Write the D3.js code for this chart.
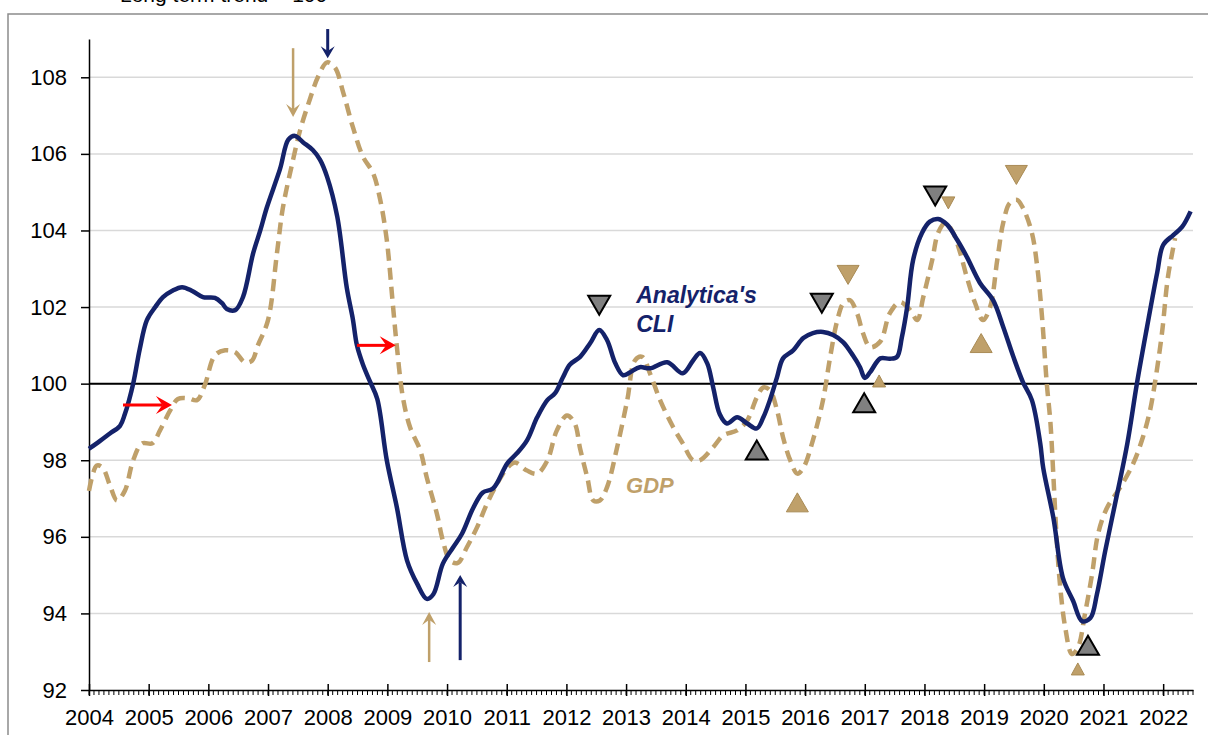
<!DOCTYPE html>
<html>
<head>
<meta charset="utf-8">
<script src="https://cdn.jsdelivr.net/npm/d3@7"></script>
<style>
  body { margin: 0; background: #fff; }
  svg text { font-family: "Liberation Sans", Arial, sans-serif; }
</style>
</head>
<body>
<svg id="chart" width="1208" height="735"></svg>
<script>
// data (decimal years, index with long-term trend = 100)
var cliYears = [2004.00, 2004.18, 2004.35, 2004.52, 2004.60, 2004.74, 2004.85, 2004.97, 2005.11, 2005.24,
  2005.39, 2005.56, 2005.73, 2005.91, 2006.11, 2006.23, 2006.31, 2006.45, 2006.58, 2006.75,
  2006.87, 2006.98, 2007.20, 2007.34, 2007.45, 2007.59, 2007.75, 2007.87, 2007.99, 2008.16,
  2008.32, 2008.42, 2008.49, 2008.59, 2008.71, 2008.83, 2008.99, 2009.16, 2009.33, 2009.50,
  2009.66, 2009.77, 2009.93, 2010.10, 2010.25, 2010.44, 2010.60, 2010.77, 2011.01, 2011.17,
  2011.34, 2011.51, 2011.68, 2011.81, 2011.94, 2012.06, 2012.23, 2012.40, 2012.55, 2012.68,
  2012.82, 2012.95, 2013.07, 2013.23, 2013.40, 2013.69, 2013.95, 2014.12, 2014.24, 2014.36,
  2014.46, 2014.57, 2014.69, 2014.86, 2015.03, 2015.19, 2015.30, 2015.41, 2015.53, 2015.63,
  2015.80, 2015.97, 2016.13, 2016.30, 2016.47, 2016.64, 2016.80, 2016.92, 2017.00, 2017.09,
  2017.26, 2017.42, 2017.54, 2017.62, 2017.71, 2017.81, 2017.96, 2018.09, 2018.23, 2018.38,
  2018.55, 2018.71, 2018.93, 2019.15, 2019.32, 2019.49, 2019.65, 2019.80, 2019.94, 2019.99,
  2020.16, 2020.32, 2020.49, 2020.64, 2020.78, 2020.89, 2021.03, 2021.23, 2021.40, 2021.56,
  2021.73, 2021.90, 2022.00, 2022.17, 2022.32, 2022.46];
var cliValues = [98.3, 98.5, 98.7, 98.9, 99.2, 100.0, 100.9, 101.66, 102.0, 102.26,
  102.42, 102.52, 102.42, 102.26, 102.24, 102.1, 101.95, 101.92, 102.26, 103.4,
  104.0, 104.6, 105.6, 106.37, 106.47, 106.3, 106.1, 105.85, 105.4, 104.36,
  102.5, 101.7, 101.0, 100.5, 100.05, 99.6, 98.0, 96.76, 95.38, 94.77,
  94.38, 94.5, 95.3, 95.72, 96.08, 96.76, 97.16, 97.26, 97.92, 98.18,
  98.52, 99.12, 99.57, 99.75, 100.16, 100.5, 100.7, 101.06, 101.4, 101.14,
  100.53, 100.22, 100.3, 100.43, 100.4, 100.56, 100.27, 100.6, 100.8, 100.53,
  99.9, 99.2, 98.96, 99.12, 98.96, 98.83, 99.12, 99.57, 100.17, 100.66,
  100.87, 101.19, 101.32, 101.35, 101.27, 101.08, 100.74, 100.43, 100.15, 100.3,
  100.66, 100.65, 100.7, 101.2, 102.0, 103.23, 103.94, 104.23, 104.3, 104.15,
  103.75, 103.31, 102.63, 102.18, 101.48, 100.7, 100.04, 99.57, 98.44, 97.8,
  96.5, 94.93, 94.33, 93.8, 93.88, 94.5, 95.64, 97.13, 98.44, 100.0,
  101.48, 102.9, 103.62, 103.88, 104.1, 104.5];

var gdpYears = [2004.00, 2004.13, 2004.23, 2004.35, 2004.47, 2004.60, 2004.74, 2004.89, 2005.06, 2005.19,
  2005.36, 2005.49, 2005.66, 2005.81, 2005.94, 2006.11, 2006.28, 2006.45, 2006.61, 2006.73,
  2006.83, 2007.00, 2007.15, 2007.25, 2007.42, 2007.54, 2007.70, 2007.84, 2007.99, 2008.12,
  2008.26, 2008.42, 2008.59, 2008.76, 2008.88, 2008.99, 2009.09, 2009.16, 2009.26, 2009.38,
  2009.55, 2009.66, 2009.83, 2009.93, 2010.05, 2010.18, 2010.33, 2010.50, 2010.67, 2010.84,
  2011.01, 2011.14, 2011.34, 2011.51, 2011.68, 2011.84, 2012.01, 2012.14, 2012.23, 2012.35,
  2012.45, 2012.56, 2012.68, 2012.85, 2013.02, 2013.15, 2013.27, 2013.40, 2013.57, 2013.79,
  2013.95, 2014.12, 2014.24, 2014.46, 2014.63, 2014.86, 2015.03, 2015.19, 2015.30, 2015.41,
  2015.53, 2015.63, 2015.75, 2015.87, 2015.97, 2016.13, 2016.30, 2016.42, 2016.54, 2016.64,
  2016.75, 2016.87, 2016.97, 2017.09, 2017.26, 2017.42, 2017.59, 2017.76, 2017.88, 2017.98,
  2018.13, 2018.23, 2018.35, 2018.48, 2018.60, 2018.71, 2018.85, 2018.98, 2019.10, 2019.22,
  2019.32, 2019.43, 2019.55, 2019.65, 2019.80, 2019.89, 2019.97, 2020.05, 2020.11, 2020.16,
  2020.21, 2020.27, 2020.36, 2020.47, 2020.57, 2020.69, 2020.81, 2020.91, 2021.06, 2021.28,
  2021.50, 2021.66, 2021.78, 2021.86, 2021.98, 2022.08, 2022.20];
var gdpValues = [97.2, 97.86, 97.8, 97.35, 96.95, 97.2, 98.0, 98.44, 98.44, 98.78,
  99.3, 99.6, 99.62, 99.57, 99.96, 100.74, 100.87, 100.82, 100.56, 100.6,
  101.0, 101.66, 103.41, 104.6, 105.85, 106.63, 107.42, 108.02, 108.39, 108.26,
  107.6, 106.71, 105.93, 105.5, 104.8, 103.75, 102.1, 100.95, 99.64, 98.86,
  98.26, 97.55, 96.6, 95.9, 95.38, 95.32, 95.72, 96.24, 96.87, 97.39,
  97.8, 97.94, 97.73, 97.65, 97.99, 98.78, 99.17, 98.96, 98.3, 97.55,
  96.95, 96.95, 97.29, 98.34, 99.57, 100.61, 100.7, 100.27, 99.57, 98.86,
  98.44, 98.0, 98.0, 98.34, 98.65, 98.78, 99.04, 99.64, 99.9, 99.83,
  99.3, 98.6, 98.0, 97.65, 97.8, 98.52, 99.57, 100.7, 101.66, 102.1,
  102.18, 101.84, 101.32, 100.95, 101.1, 101.84, 102.13, 101.92, 101.66, 102.26,
  103.23, 103.94, 104.2, 103.94, 103.41, 102.78, 102.1, 101.66, 102.0, 103.23,
  104.2, 104.72, 104.8, 104.59, 103.94, 103.05, 101.74, 100.0, 99.0, 97.6,
  96.1, 94.77, 93.62, 92.94, 93.1, 93.99, 95.04, 96.08, 96.76, 97.29,
  97.92, 98.6, 99.3, 100.0, 101.32, 102.78, 103.8];

var yTicks = [92, 94, 96, 98, 100, 102, 104, 106, 108];
var xYears = d3.range(2004, 2023);

// turning point markers
var markYears  = [2012.55, 2016.28, 2018.18, 2015.19, 2016.99, 2020.74, 2016.72, 2019.54, 2018.40, 2015.87, 2018.95, 2017.24, 2020.57];
var markValues = [102.05, 102.1, 104.9, 98.27, 99.5, 93.17, 102.84, 105.45, 104.72, 96.9, 101.06, 100.07, 92.55];
var markDir    = ["down", "down", "down", "up", "up", "up", "down", "down", "down", "up", "up", "up", "up"];
var markSeries = ["cli", "cli", "cli", "cli", "cli", "cli", "gdp", "gdp", "gdp", "gdp", "gdp", "gdp", "gdp"];
var markBig    = [true, true, true, true, true, true, true, true, false, true, true, false, false];

// arrows: [x0, y0, x1, y1] in data units
var arrowSeries = ["cli", "gdp", "gdp", "cli", "red", "red"];
var arrowFrom = [[2008.0, 109.26], [2007.42, 108.76], [2009.70, 92.73], [2010.22, 92.78], [2004.57, 99.44], [2008.49, 101.0]];
var arrowTo   = [[2008.0, 108.5], [2007.42, 106.96], [2009.70, 94.04], [2010.22, 95.0], [2005.39, 99.44], [2009.14, 101.0]];

var navy = "#14226a";
var tan = "#bfa06a";
var colors = {cli: navy, gdp: tan, red: "#ff0000"};

var svg = d3.select("#chart");
var x = d3.scaleLinear().domain([2004, 2022.5]).range([89, 1193]);
var y = d3.scaleLinear().domain([92, 109]).range([690, 39]);

// outer frame
svg.append("rect")
  .attr("x", 8).attr("y", 14).attr("width", 1230).attr("height", 760)
  .attr("fill", "none").attr("stroke", "#8c8c8c").attr("stroke-width", 1.5);

svg.append("text")
  .attr("x", 120).attr("y", 2)
  .attr("font-size", 21).attr("fill", "#000")
  .text("Long term trend = 100");

// gridlines
svg.append("g").selectAll("line")
  .data(yTicks.filter(function (d) { return d !== 92; }))
  .join("line")
  .attr("x1", x(2004)).attr("x2", x(2022.5))
  .attr("y1", function (d) { return y(d); }).attr("y2", function (d) { return y(d); })
  .attr("stroke", "#d9d9d9").attr("stroke-width", 1.5);

// trend line
svg.append("line")
  .attr("x1", x(2004)).attr("x2", x(2022.5) + 4)
  .attr("y1", y(100)).attr("y2", y(100))
  .attr("stroke", "#000").attr("stroke-width", 2);

// y axis
var yAxis = svg.append("g")
  .attr("transform", "translate(" + x(2004) + ",0)")
  .call(d3.axisLeft(y).tickValues(yTicks).tickSize(8).tickSizeOuter(0).tickPadding(14).tickFormat(d3.format("d")));
yAxis.select(".domain").attr("stroke-width", 1.5);
yAxis.selectAll(".tick line").attr("stroke-width", 1.5);
yAxis.selectAll("text").attr("font-size", 22).attr("font-family", "Liberation Sans, Arial, sans-serif").attr("fill", "#000");

// x axis: minor monthly ticks
var months = d3.range(0, 18.5 * 12 + 1).map(function (i) { return 2004 + i / 12; });
svg.append("g").selectAll("line")
  .data(months)
  .join("line")
  .attr("x1", function (d) { return x(d); }).attr("x2", function (d) { return x(d); })
  .attr("y1", y(92)).attr("y2", y(92) + 5)
  .attr("stroke", "#000").attr("stroke-width", 1);

var xAxis = svg.append("g")
  .attr("transform", "translate(0," + y(92) + ")")
  .call(d3.axisBottom(x).tickValues(xYears).tickSize(6).tickSizeOuter(0).tickPadding(13).tickFormat(d3.format("d")));
xAxis.select(".domain").attr("stroke-width", 1.5);
xAxis.selectAll(".tick line").attr("y1", -6).attr("stroke-width", 1.5);
xAxis.selectAll("text").attr("font-size", 22).attr("font-family", "Liberation Sans, Arial, sans-serif").attr("fill", "#000");

// series
var line = d3.line()
  .x(function (d) { return x(d[0]); })
  .y(function (d) { return y(d[1]); })
  .curve(d3.curveCatmullRom.alpha(0.5));

svg.append("path")
  .datum(gdpYears.map(function (t, i) { return [t, gdpValues[i]]; }))
  .attr("d", line)
  .attr("fill", "none").attr("stroke", tan)
  .attr("stroke-width", 4.5).attr("stroke-dasharray", "12,7");

svg.append("path")
  .datum(cliYears.map(function (t, i) { return [t, cliValues[i]]; }))
  .attr("d", line)
  .attr("fill", "none").attr("stroke", navy)
  .attr("stroke-width", 4.5).attr("stroke-linejoin", "round");

// turning point triangles
svg.append("g").selectAll("path")
  .data(markYears.map(function (t, i) { return i; }))
  .join("path")
  .attr("transform", function (i) { return "translate(" + x(markYears[i]) + "," + y(markValues[i]) + ")"; })
  .attr("d", function (i) {
    var w = markBig[i] ? 11 : 6.5, h = markBig[i] ? 9.5 : 6;
    return markDir[i] === "down"
      ? "M" + (-w) + "," + (-h) + "L" + w + "," + (-h) + "L0," + h + "Z"
      : "M" + (-w) + "," + h + "L" + w + "," + h + "L0," + (-h) + "Z";
  })
  .attr("fill", function (i) { return markSeries[i] === "cli" ? "#808080" : tan; })
  .attr("stroke", function (i) { return markSeries[i] === "cli" ? "#000" : "#a98b55"; })
  .attr("stroke-width", function (i) { return markSeries[i] === "cli" ? 2 : 1; });

// arrows
arrowSeries.forEach(function (s, i) {
  var x0 = x(arrowFrom[i][0]), y0 = y(arrowFrom[i][1]);
  var x1 = x(arrowTo[i][0]), y1 = y(arrowTo[i][1]);
  var ang = Math.atan2(y1 - y0, x1 - x0);
  var len = s === "red" ? 16 : (s === "cli" ? 12 : 13);
  var half = s === "red" ? 9 : 7;
  var g = svg.append("g").attr("transform", "translate(" + x1 + "," + y1 + ") rotate(" + (ang * 180 / Math.PI) + ")");
  var total = Math.hypot(x1 - x0, y1 - y0);
  g.append("line")
    .attr("x1", -total).attr("x2", -len * 0.6)
    .attr("y1", 0).attr("y2", 0)
    .attr("stroke", colors[s]).attr("stroke-width", s === "gdp" ? 2.5 : 3);
  g.append("path")
    .attr("d", "M0,0L" + (-len) + "," + (-half) + "L" + (-len * 0.6) + ",0L" + (-len) + "," + half + "Z")
    .attr("fill", colors[s]);
});

// labels
svg.append("text")
  .attr("x", x(2013.17)).attr("y", y(102.1))
  .attr("font-size", 23).attr("font-weight", "bold").attr("font-style", "italic")
  .attr("fill", navy)
  .text("Analytica's");
svg.append("text")
  .attr("x", x(2013.17)).attr("y", y(101.35))
  .attr("font-size", 23).attr("font-weight", "bold").attr("font-style", "italic")
  .attr("fill", navy)
  .text("CLI");
svg.append("text")
  .attr("x", x(2013.0)).attr("y", y(97.14))
  .attr("font-size", 22).attr("font-weight", "bold").attr("font-style", "italic")
  .attr("fill", tan)
  .text("GDP");
</script>
</body>
</html>
